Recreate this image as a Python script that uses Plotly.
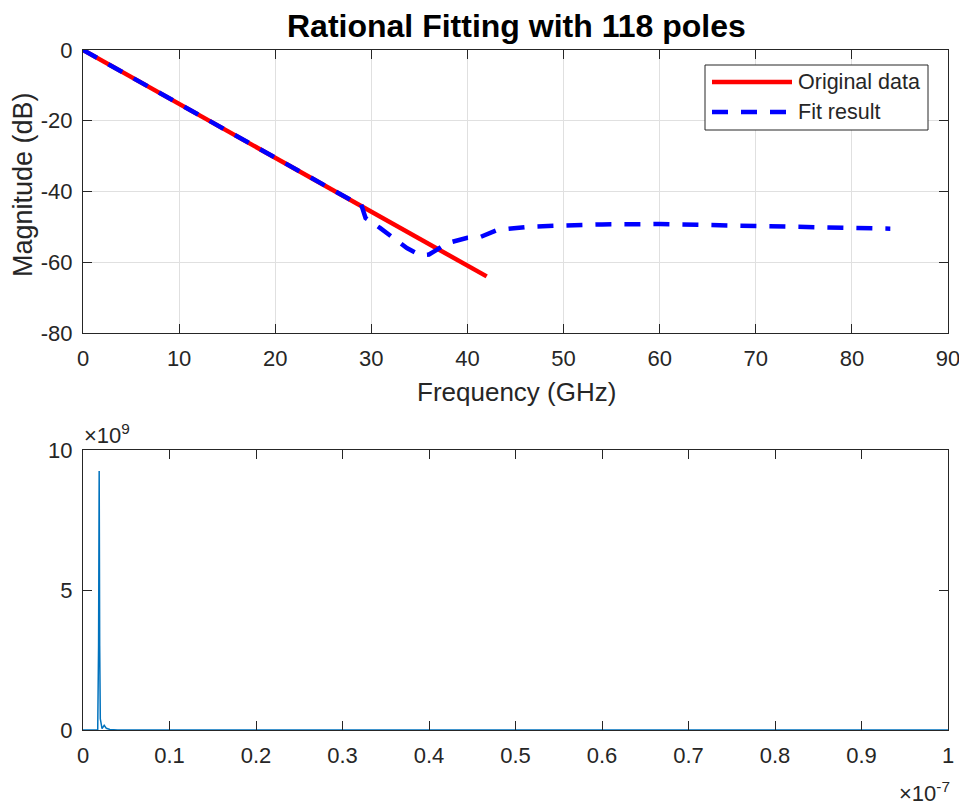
import plotly.graph_objects as go

# ---- data ----
freq_orig = [0, 10, 20, 30, 42]
mag_orig = [0, -15.2, -30.5, -45.7, -64]

freq_fit = [0, 10, 20, 28, 28.9, 29.4, 30.9, 32.3, 33.7, 35.1, 36.0, 36.8, 37.9,
            40, 41.3, 43.1, 44.4, 46.2, 50, 54, 60, 66, 70, 77, 84]
mag_fit = [0, -15.2, -30.5, -42.6, -43.3, -47.5, -50.3, -53.1, -56.0, -58.0, -57.8,
           -56.5, -54.6, -53.1, -52.9, -50.9, -50.6, -50.0, -49.6, -49.3, -49.2,
           -49.5, -49.8, -50.2, -50.5]

time_s = [0, 1.70e-9, 1.80e-9, 1.87e-9, 1.93e-9, 2.0e-9, 2.2e-9, 2.45e-9, 2.7e-9,
          3.1e-9, 4.0e-9, 1.0e-7]
impulse = [0, 0, 3.0e9, 9.25e9, 3.0e9, 0.4e9, 0.05e9, 0.17e9, 0.06e9, 0.02e9, 0, 0]

top_xticks = [0, 10, 20, 30, 40, 50, 60, 70, 80, 90]
top_yticks = [-80, -60, -40, -20, 0]
top_ytext = ["-80", "-60", "-40", "-20", "0"]
bot_xticks = [0, 1e-8, 2e-8, 3e-8, 4e-8, 5e-8, 6e-8, 7e-8, 8e-8, 9e-8, 1e-7]
bot_xtext = ["0", "0.1", "0.2", "0.3", "0.4", "0.5", "0.6", "0.7", "0.8", "0.9", "1"]
bot_yticks = [0, 5e9, 1e10]
bot_ytext = ["0", "5", "10"]
legend_names = ["Original data", "Fit result"]

# page body has an 8px margin: figure is 959x800 placed at (8, 8)
OFF = 8
W, H = 967 - OFF, 808 - OFF
FONT = "Liberation Sans, Arial, sans-serif"
TXT = "#262626"
AX = "#262626"
GRID = "#e0e0e0"
RED = "#ff0000"
BLUE = "#0000ff"
DASH = "16px,13px"


def px(x):
    return (x - OFF) / W


def py(y):
    return 1 - (y - OFF) / H


fig = go.Figure()
fig.add_trace(go.Scatter(x=freq_orig, y=mag_orig, mode="lines", name=legend_names[0],
                         showlegend=False,
                         line=dict(color=RED, width=4.5), xaxis="x", yaxis="y"))
fig.add_trace(go.Scatter(x=freq_fit, y=mag_fit, mode="lines", name=legend_names[1],
                         showlegend=False,
                         line=dict(color=BLUE, width=4.5, dash=DASH),
                         xaxis="x", yaxis="y"))
fig.add_trace(go.Scatter(x=time_s, y=impulse, mode="lines", showlegend=False,
                         line=dict(color="#0072BD", width=1.5), xaxis="x2", yaxis="y2"))

xd = [px(83), px(948)]
common = dict(showline=True, linecolor=AX, linewidth=1, mirror="ticks", ticks="inside",
              ticklen=9, tickcolor=AX, zeroline=False, automargin=False,
              tickfont=dict(family=FONT, size=22, color=TXT))

fig.update_layout(
    width=W, height=H, margin=dict(l=0, r=0, t=0, b=0, autoexpand=False),
    paper_bgcolor="white", plot_bgcolor="white", showlegend=False,
    xaxis=dict(domain=xd, range=[0, 90], tickvals=top_xticks, showgrid=True,
               gridcolor=GRID, anchor="y", ticklabelstandoff=6, **common),
    yaxis=dict(domain=[py(333), py(50)], range=[-80, 0], tickvals=top_yticks,
               ticktext=top_ytext, showgrid=True, gridcolor=GRID, anchor="x",
               ticklabelstandoff=5, **common),
    xaxis2=dict(domain=xd, range=[0, 1e-7], tickvals=bot_xticks, ticktext=bot_xtext,
                showgrid=False, anchor="y2", ticklabelstandoff=6, **common),
    yaxis2=dict(domain=[py(730), py(450)], range=[0, 1e10], tickvals=bot_yticks,
                ticktext=bot_ytext, showgrid=False, anchor="x2", ticklabelstandoff=5,
                **common),
)

# legend box drawn like MATLAB's (long line samples)
shapes = [
    dict(type="rect", x0=px(705), x1=px(928), y0=py(65), y1=py(130),
         line=dict(color=AX, width=1), fillcolor="white", layer="above"),
    dict(type="line", x0=px(712), x1=px(792), y0=py(82), y1=py(82),
         line=dict(color=RED, width=4.5), layer="above"),
    dict(type="line", x0=px(712), x1=px(792), y0=py(112), y1=py(112),
         line=dict(color=BLUE, width=4.5, dash=DASH), layer="above"),
]
for s in shapes:
    fig.add_shape(xref="paper", yref="paper", **s)

ann = [
    dict(text="<b>Rational Fitting with 118 poles</b>", x=px(516), y=py(26),
         font=dict(size=32, family=FONT, color="black")),
    dict(text="Frequency (GHz)", x=px(516), y=py(392),
         font=dict(size=26, family=FONT, color=TXT)),
    dict(text="Magnitude (dB)", x=px(23), y=py(185), textangle=-90,
         font=dict(size=27, family=FONT, color=TXT)),
    dict(text="×10<sup>9</sup>", x=px(82), y=py(434), xanchor="left",
         font=dict(size=22, family=FONT, color=TXT)),
    dict(text="×10<sup>-7</sup>", x=px(952), y=py(792), xanchor="right",
         font=dict(size=22, family=FONT, color=TXT)),
    dict(text=legend_names[0], x=px(796), y=py(82), xanchor="left",
         font=dict(size=21.5, family=FONT, color=TXT)),
    dict(text=legend_names[1], x=px(796), y=py(112), xanchor="left",
         font=dict(size=21.5, family=FONT, color=TXT)),
]
for a in ann:
    a.setdefault("xanchor", "center")
    fig.add_annotation(xref="paper", yref="paper", showarrow=False, yanchor="middle", **a)

fig.write_html("out.html")
